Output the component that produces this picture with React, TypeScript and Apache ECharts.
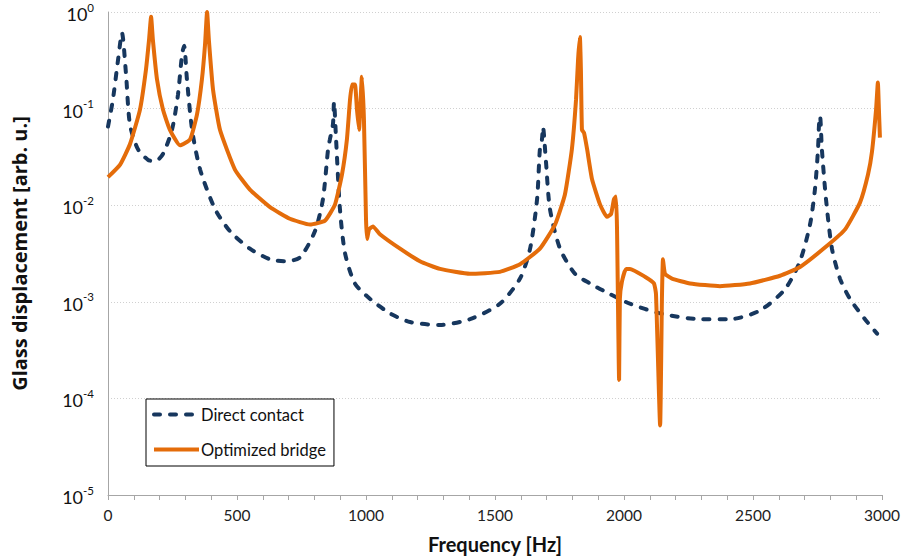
import React, { useEffect, useRef } from "react";
import * as echarts from "echarts";

// Frequency [Hz] and displacement [arb. u.]
const directFreq = [0, 19, 39, 54, 70, 85, 116, 155, 182, 213, 248, 271, 287, 295, 306, 326, 357, 415, 473, 550, 628, 686, 744, 802, 833, 853, 860, 872, 876, 884, 899, 919, 957, 1016, 1093, 1171, 1287, 1403, 1519, 1597, 1636, 1663, 1674, 1682, 1686, 1697, 1713, 1752, 1810, 1868, 1946, 2023, 2140, 2295, 2411, 2527, 2624, 2682, 2721, 2740, 2752, 2756, 2760, 2767, 2783, 2806, 2837, 2876, 2934, 2981];
const directValues = [0.0652, 0.124, 0.32, 0.608, 0.224, 0.0684, 0.038, 0.0295, 0.0284, 0.0339, 0.0603, 0.138, 0.363, 0.447, 0.2, 0.0603, 0.0234, 0.00912, 0.00537, 0.00355, 0.00275, 0.00263, 0.00288, 0.00537, 0.0115, 0.038, 0.0479, 0.0692, 0.117, 0.0479, 0.00912, 0.00316, 0.00155, 0.00107, 0.000759, 0.000617, 0.000575, 0.000661, 0.000955, 0.00174, 0.00355, 0.0115, 0.038, 0.0479, 0.0646, 0.0295, 0.00912, 0.00355, 0.00195, 0.00155, 0.0012, 0.000955, 0.000759, 0.000661, 0.000661, 0.000813, 0.00135, 0.00263, 0.00631, 0.0145, 0.038, 0.0692, 0.0832, 0.038, 0.0115, 0.00355, 0.00174, 0.00107, 0.000661, 0.000468];

const bridgeFreq = [0, 47, 85, 124, 147, 159, 167, 174, 190, 213, 240, 279, 318, 345, 364, 376, 384, 391, 407, 434, 492, 550, 628, 705, 783, 841, 880, 907, 926, 938, 946, 957, 965, 973, 981, 984, 992, 1000, 1004, 1012, 1027, 1054, 1132, 1209, 1287, 1403, 1519, 1597, 1674, 1733, 1771, 1798, 1814, 1822, 1829, 1833, 1837, 1845, 1857, 1876, 1907, 1934, 1950, 1961, 1969, 1973, 1981, 1984, 1992, 2008, 2023, 2081, 2116, 2124, 2140, 2147, 2151, 2159, 2186, 2256, 2372, 2488, 2605, 2682, 2787, 2857, 2915, 2946, 2961, 2977, 2984, 2988, 2992];
const bridgeValues = [0.0195, 0.0263, 0.0427, 0.0977, 0.251, 0.513, 0.891, 0.513, 0.2, 0.0977, 0.0603, 0.0417, 0.0479, 0.0871, 0.2, 0.457, 1.0, 0.513, 0.158, 0.0603, 0.0234, 0.0145, 0.00955, 0.00724, 0.00631, 0.00692, 0.0102, 0.0209, 0.0479, 0.123, 0.178, 0.178, 0.0977, 0.0603, 0.158, 0.214, 0.0776, 0.00724, 0.00447, 0.00562, 0.00603, 0.00501, 0.00355, 0.00263, 0.00219, 0.00195, 0.00204, 0.00245, 0.00355, 0.00631, 0.0129, 0.038, 0.123, 0.324, 0.55, 0.251, 0.0603, 0.0562, 0.038, 0.0186, 0.0102, 0.00759, 0.00813, 0.0115, 0.0123, 0.00562, 0.000155, 0.00107, 0.00162, 0.00219, 0.00219, 0.00182, 0.00155, 0.0012, 0.0000525, 0.00107, 0.00275, 0.00195, 0.00174, 0.00155, 0.00145, 0.00155, 0.00186, 0.00229, 0.0038, 0.00562, 0.0107, 0.0209, 0.0355, 0.0977, 0.186, 0.0977, 0.0501];

const seriesNames = ["Direct contact", "Optimized bridge"];
const xAxisTitle = "Frequency [Hz]";
const yAxisTitle = "Glass displacement [arb. u.]";

const FONT = "Lato, 'Open Sans', sans-serif";

export default function App() {
  const ref = useRef<HTMLDivElement>(null);
  useEffect(() => {
    if (!ref.current) return;
    const chart = echarts.init(ref.current, null, { renderer: "svg" });
    const pair = (xs: number[], ys: number[]) => xs.map((x, i) => [x, ys[i]]);
    chart.setOption({
      animation: false,
      backgroundColor: "#ffffff",
      textStyle: { fontFamily: FONT },
      grid: { left: 108, right: 34, top: 12, bottom: 62, containLabel: false },
      legend: {
        orient: "vertical",
        left: 146,
        top: 399,
        width: 191,
        borderColor: "#000000",
        borderWidth: 1,
        borderRadius: 0,
        padding: [7, 8, 8, 6],
        itemGap: 18,
        itemWidth: 45,
        itemHeight: 14,
        itemStyle: { opacity: 0 },
        lineStyle: { width: 4 },
        textStyle: { fontFamily: FONT, fontSize: 16.5, color: "#111111", padding: [0, 0, 0, -3] },
        data: seriesNames,
      },
      xAxis: {
        type: "value",
        min: 0,
        max: 3000,
        interval: 500,
        name: xAxisTitle,
        nameLocation: "middle",
        nameGap: 39,
        nameTextStyle: { fontFamily: FONT, fontSize: 20, fontWeight: "bold", color: "#111111" },
        axisLine: { show: true, onZero: false, lineStyle: { color: "#A6A6A6", width: 1 } },
        axisTick: { show: true, length: 5, inside: false, lineStyle: { color: "#A6A6A6" } },
        minorTick: { show: true, splitNumber: 5, length: 5, lineStyle: { color: "#A6A6A6" } },
        axisLabel: { fontFamily: FONT, fontSize: 15.5, color: "#222222", margin: 12, formatter: (v: number) => String(v) },
        splitLine: { show: false },
      },
      yAxis: {
        type: "log",
        logBase: 10,
        min: 1e-5,
        max: 1,
        name: yAxisTitle,
        nameLocation: "middle",
        nameGap: 79,
        nameRotate: 90,
        nameTextStyle: { fontFamily: "'Open Sans', Lato, sans-serif", fontSize: 20, fontWeight: "bold", color: "#111111" },
        axisLine: { show: true, lineStyle: { color: "#A6A6A6", width: 1 } },
        axisTick: { show: false },
        axisLabel: {
          margin: 14,
          formatter: (v: number) => `{b|10}{s|${Math.round(Math.log10(v))}}`,
          rich: {
            b: { fontFamily: FONT, fontSize: 18, color: "#111111", padding: [4, 0, 0, 0] },
            s: { fontFamily: FONT, fontSize: 11.5, color: "#111111", verticalAlign: "top", padding: [0, 0, 9, 0] },
          },
        },
        splitLine: { show: true, lineStyle: { color: "#D0D0D0", type: [1, 2], width: 1 } },
      },
      series: [
        {
          name: seriesNames[0],
          type: "line",
          data: pair(directFreq, directValues),
          showSymbol: false,
          symbol: "none",
          smooth: 0.25,
          lineStyle: { color: "#17375E", width: 4, type: [6, 10], cap: "round" },
          itemStyle: { color: "#17375E" },
          z: 2,
        },
        {
          name: seriesNames[1],
          type: "line",
          data: pair(bridgeFreq, bridgeValues),
          showSymbol: false,
          symbol: "none",
          smooth: 0.15,
          lineStyle: { color: "#E46C0A", width: 4, type: "solid" },
          itemStyle: { color: "#E46C0A" },
          z: 3,
        },
      ],
    });
    return () => chart.dispose();
  }, []);
  return (
    <div
      ref={ref}
      style={{ position: "absolute", left: 0, top: 0, width: 916, height: 559, background: "#fff" }}
    />
  );
}
